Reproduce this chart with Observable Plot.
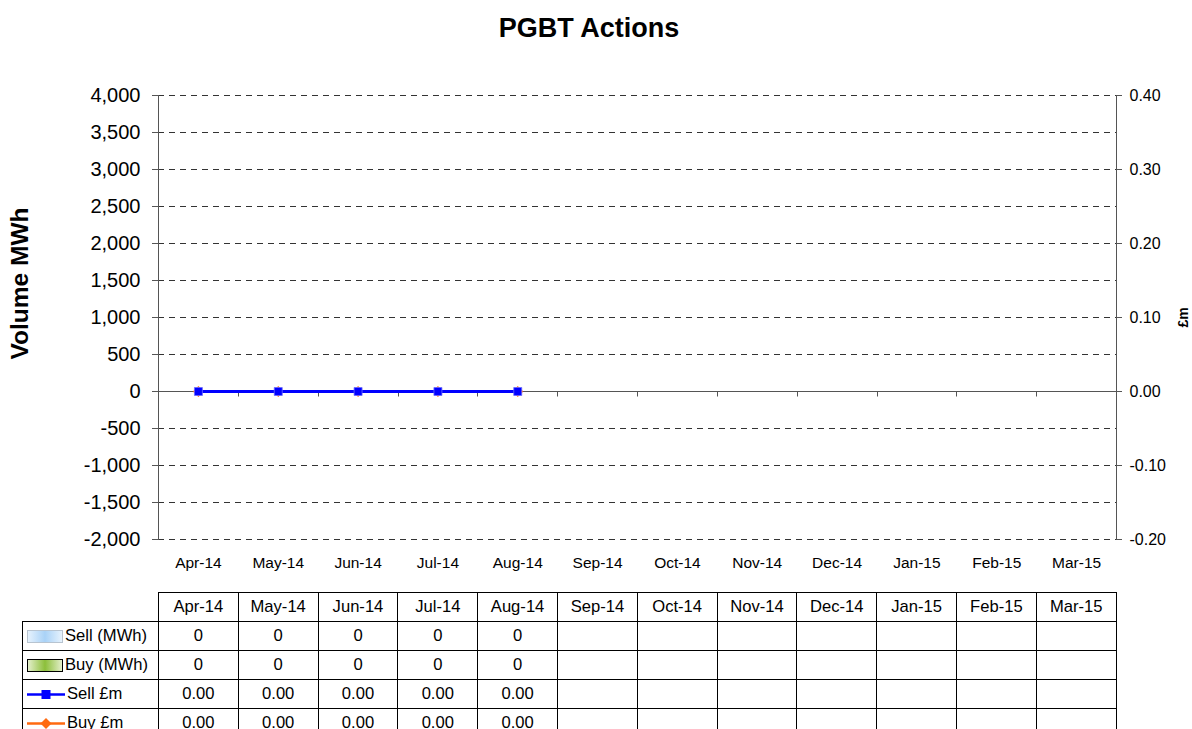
<!DOCTYPE html>
<html>
<head>
<meta charset="utf-8">
<script src="https://cdn.jsdelivr.net/npm/d3@7"></script>
<script src="https://cdn.jsdelivr.net/npm/@observablehq/plot@0.6"></script>
<style>
  body { margin: 0; background: #fff; font-family: "Liberation Sans", Arial, sans-serif; }
  #wrap { position: relative; width: 1192px; height: 729px; overflow: hidden; }
  #title { position: absolute; top: 13px; left: 0; width: 1178px; text-align: center; font-weight: bold; font-size: 27px; }
  #chart { position: absolute; top: 0; left: 0; }
  table { position: absolute; top: 592px; left: 22px; border-collapse: collapse; font-size: 16.6px; }
  td { border: 1px solid #000; height: 28px; padding: 0; text-align: center; width: 78.8px; }
  td.lab { width: 135px; text-align: left; white-space: nowrap; }
  td.blank { border: none; border-bottom: 1px solid #000; }
  .sw { display: inline-block; vertical-align: middle; margin: 0 2px 0 4px; }
</style>
</head>
<body>
<div id="wrap">
  <div id="chart"></div>
  <div id="title">PGBT Actions</div>
  <table id="tbl"></table>
</div>
<script>
const months = ["Apr-14","May-14","Jun-14","Jul-14","Aug-14","Sep-14","Oct-14","Nov-14","Dec-14","Jan-15","Feb-15","Mar-15"];
const sellMWh = [0,0,0,0,0,null,null,null,null,null,null,null];
const buyMWh  = [0,0,0,0,0,null,null,null,null,null,null,null];
const sellGBPm = [0,0,0,0,0,null,null,null,null,null,null,null];
const buyGBPm  = [0,0,0,0,0,null,null,null,null,null,null,null];
const volTicks = d3.range(-2000, 4001, 500);
const gbpTicks = [-0.2,-0.1,0,0.1,0.2,0.3,0.4];

const ratio = 10000; // £m -> MWh axis scaling
const fmtVol = d => (d < 0 ? "-" : "") + d3.format(",")(Math.abs(d));
const fmtGbp = d => (d < 0 ? "-" : "") + Math.abs(d).toFixed(2);

const rows = months.map((m, i) => ({m, sellMWh: sellMWh[i], buyMWh: buyMWh[i], sellGBPm: sellGBPm[i], buyGBPm: buyGBPm[i]}));
const sellLine = rows.filter(d => d.sellGBPm != null);
const buyLine = rows.filter(d => d.buyGBPm != null);

const font = "Liberation Sans, Arial, sans-serif";

const chart = Plot.plot({
  width: 1192,
  height: 580,
  marginTop: 95,
  marginBottom: 41,
  marginLeft: 158,
  marginRight: 76,
  style: {fontFamily: font, fontSize: "14px", color: "#000", background: "transparent"},
  x: {type: "band", domain: months, padding: 0, round: false, axis: null},
  y: {type: "linear", domain: [-2000, 4000], axis: null},
  marks: [
    Plot.ruleY(volTicks.filter(v => v !== 0), {stroke: "#000", strokeWidth: 1, strokeDasharray: "6,5", strokeOpacity: 0.8}),
    Plot.barY(rows.filter(d => d.sellMWh != null), {x: "m", y: "sellMWh", fill: "#bcdcf8"}),
    Plot.barY(rows.filter(d => d.buyMWh != null), {x: "m", y: "buyMWh", fill: "#9cc45a", stroke: "#000"}),
    // zero axis line with category boundary ticks
    Plot.ruleY([0], {stroke: "#000", strokeWidth: 1, render: (index, scales, values, dims, ctx, next) => {
      const g = d3.create("svg:g");
      const y0 = Math.round(scales.y(0)) + 0.5;
      const x0 = dims.marginLeft, x1 = dims.width - dims.marginRight;
      g.append("line").attr("x1", x0).attr("x2", x1).attr("y1", y0).attr("y2", y0).attr("stroke", "#555");
      for (const m of months.slice(1)) {
        const x = Math.round(scales.x(m)) + 0.5;
        g.append("line").attr("x1", x).attr("x2", x).attr("y1", y0).attr("y2", y0 + 5).attr("stroke", "#555");
      }
      return g.node();
    }}),
    Plot.axisY({anchor: "left", ticks: volTicks, tickFormat: fmtVol, tickSize: 6, tickPadding: 12, fontSize: 20, stroke: "#555", label: null}),
    Plot.axisY({anchor: "right", ticks: gbpTicks.map(v => v * ratio), tickFormat: d => fmtGbp(d / ratio), tickSize: 5, tickPadding: 8, fontSize: 16, stroke: "#555", label: null}),
    Plot.frame({anchor: "left", stroke: "#555"}),
    Plot.frame({anchor: "right", stroke: "#555"}),
    Plot.axisX({anchor: "bottom", tickSize: 0, tickPadding: 17, fontSize: 15.5, label: null}),
    Plot.line(buyLine, {x: "m", y: d => d.buyGBPm * ratio, stroke: "#ff6a10", strokeWidth: 3}),
    Plot.dot(buyLine, {x: "m", y: d => d.buyGBPm * ratio, symbol: "diamond2", r: 5, fill: "#ff6a10", stroke: "none"}),
    Plot.line(sellLine, {x: "m", y: d => d.sellGBPm * ratio, stroke: "#0000ff", strokeWidth: 3}),
    Plot.dot(sellLine, {x: "m", y: d => d.sellGBPm * ratio, symbol: "square", r: 4.5, fill: "#0000ff", stroke: "#6b6bff", strokeWidth: 0.8}),
    Plot.text(["Volume MWh"], {frameAnchor: "left", textAnchor: "middle", dx: -138, dy: -34, rotate: -90, fontSize: 24.5, fontWeight: "bold", fill: "#000"}),
    Plot.text(["£m"], {frameAnchor: "right", textAnchor: "middle", dx: 67, dy: 0, rotate: -90, fontSize: 14, fontWeight: "bold", fill: "#000"})
  ]
});
document.getElementById("chart").appendChild(chart);

// data table
const tbl = document.getElementById("tbl");
const hdr = document.createElement("tr");
hdr.innerHTML = `<td class="lab blank"></td>` + months.map(m => `<td>${m}</td>`).join("");
tbl.appendChild(hdr);
const swSell = `<svg class="sw" width="36" height="13"><defs><linearGradient id="gs"><stop offset="0" stop-color="#e8f3fd"/><stop offset="0.5" stop-color="#a9d2f7"/><stop offset="1" stop-color="#e8f3fd"/></linearGradient></defs><rect x="0.5" y="0.5" width="35" height="12" fill="url(#gs)" stroke="#b8c4d0"/></svg>`;
const swBuy = `<svg class="sw" width="36" height="13"><defs><linearGradient id="gb"><stop offset="0" stop-color="#e6f0cf"/><stop offset="0.5" stop-color="#8cbf3a"/><stop offset="1" stop-color="#e6f0cf"/></linearGradient></defs><rect x="0.5" y="0.5" width="35" height="12" fill="url(#gb)" stroke="#000"/></svg>`;
const swSellL = `<svg class="sw" width="38" height="13"><line x1="0" x2="38" y1="6.5" y2="6.5" stroke="#0000ff" stroke-width="2.5"/><rect x="14.5" y="2" width="9" height="9" fill="#0000ff"/></svg>`;
const swBuyL = `<svg class="sw" width="38" height="13"><line x1="0" x2="38" y1="6.5" y2="6.5" stroke="#ff6a10" stroke-width="2.5"/><path d="M19,1 L24.5,6.5 L19,12 L13.5,6.5Z" fill="#ff6a10"/></svg>`;
const series = [
  {label: "Sell (MWh)", sw: swSell, vals: sellMWh, f: v => String(v)},
  {label: "Buy (MWh)", sw: swBuy, vals: buyMWh, f: v => String(v)},
  {label: "Sell £m", sw: swSellL, vals: sellGBPm, f: v => v.toFixed(2)},
  {label: "Buy £m", sw: swBuyL, vals: buyGBPm, f: v => v.toFixed(2)}
];
for (const s of series) {
  const tr = document.createElement("tr");
  tr.innerHTML = `<td class="lab">${s.sw}${s.label}</td>` + s.vals.map(v => `<td>${v == null ? "" : s.f(v)}</td>`).join("");
  tbl.appendChild(tr);
}
</script>
</body>
</html>
